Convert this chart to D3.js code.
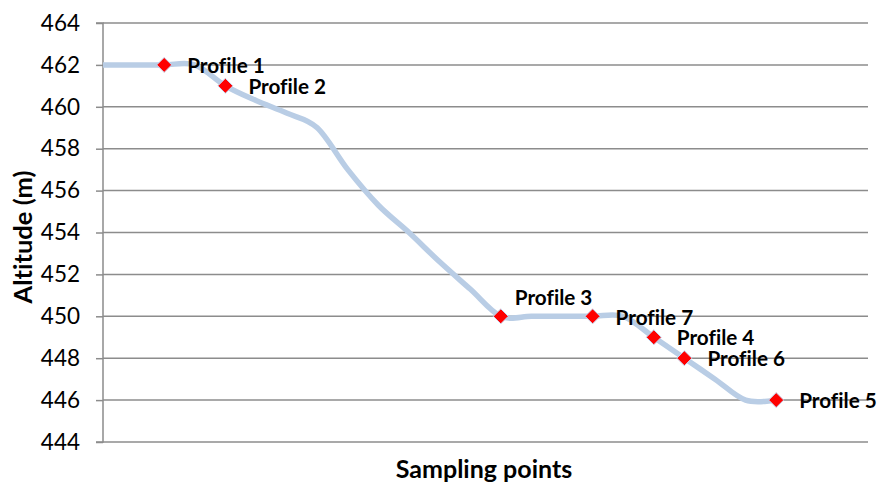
<!DOCTYPE html>
<html>
<head>
<meta charset="utf-8">
<script src="https://cdn.jsdelivr.net/npm/d3@7"></script>
<style>
  html, body { margin: 0; padding: 0; background: #fff; }
  svg { display: block; }
  text { font-family: Lato, "Open Sans", sans-serif; fill: #000; font-variant-ligatures: none; font-feature-settings: "liga" 0; }
</style>
</head>
<body>
<svg id="chart" width="883" height="484"></svg>
<script>
// Altitude profile along the sampling transect (index = sampling point)
const pointIndex = [0, 1, 2, 3, 4, 5, 6, 7, 8, 9, 10, 11, 12, 13, 14, 15, 16, 17, 18, 19, 20, 21, 22];
const altitude   = [462, 462, 462, 462, 461, 460.3, 459.7, 459.0, 457.0, 455.3, 454.0, 452.6, 451.3,
                    450, 450, 450, 450, 450, 449, 448, 447, 446, 446];

// Labelled sampling profiles
const profileNames = ["Profile 1", "Profile 2", "Profile 3", "Profile 7", "Profile 4", "Profile 6", "Profile 5"];
const profileIndex = [2, 4, 13, 16, 18, 19, 22];
const profileAlt   = [462, 461, 450, 450, 449, 448, 446];
const labelsAbove  = ["Profile 3"];

const yTicks = [444, 446, 448, 450, 452, 454, 456, 458, 460, 462, 464];
const yTitle = "Altitude (m)";
const xTitle = "Sampling points";

const svg = d3.select("#chart");
const plotLeft = 103, plotRight = 868, plotTop = 23, plotBottom = 442;

const x = d3.scaleLinear().domain([0, 25]).range([plotLeft, plotRight]);
const y = d3.scaleLinear().domain([444, 464]).range([plotBottom, plotTop]);

// horizontal gridlines
svg.append("g")
  .selectAll("line")
  .data(yTicks)
  .join("line")
  .attr("x1", plotLeft).attr("x2", plotRight)
  .attr("y1", d => y(d)).attr("y2", d => y(d))
  .attr("stroke", "#8c8c8c").attr("stroke-width", 1.5);

// y axis with outward ticks
const yAxis = d3.axisLeft(y).tickValues(yTicks).tickSize(7).tickPadding(16).tickFormat(d3.format("d"));
const ga = svg.append("g").attr("transform", `translate(${plotLeft},0)`).call(yAxis);
ga.select(".domain").attr("stroke", "#8c8c8c").attr("stroke-width", 1.5).attr("d", `M-7,${plotTop}H0V${plotBottom}H-7`);
ga.selectAll(".tick line").attr("stroke", "#8c8c8c").attr("stroke-width", 1.5);
ga.selectAll(".tick text").style("font-family", "Lato, sans-serif").style("font-size", "22.5px").attr("fill", "#000");

// axis titles
svg.append("text")
  .attr("transform", `translate(23,${237}) rotate(-90)`)
  .attr("text-anchor", "middle")
  .attr("dy", "0.35em")
  .style("font-size", "25.5px").style("font-weight", "bold")
  .text(yTitle);

svg.append("text")
  .attr("x", 484).attr("y", 478)
  .attr("text-anchor", "middle")
  .style("font-size", "25px").style("font-weight", "bold")
  .text(xTitle);

// smoothed altitude line
const line = d3.line()
  .x((d, i) => x(pointIndex[i]))
  .y(d => y(d))
  .curve(d3.curveCatmullRom.alpha(0));

svg.append("path")
  .datum(altitude)
  .attr("d", line)
  .attr("fill", "none")
  .attr("stroke", "#b9cde5")
  .attr("stroke-width", 5.5)
  .attr("stroke-linecap", "butt")
  .attr("stroke-linejoin", "round");

// profile markers
const profiles = profileNames.map((n, i) => ({ name: n, idx: profileIndex[i], alt: profileAlt[i] }));

svg.append("g")
  .selectAll("path")
  .data(profiles)
  .join("path")
  .attr("transform", d => `translate(${x(d.idx)},${y(d.alt)})`)
  .attr("d", "M0,-7.5L7.5,0L0,7.5L-7.5,0Z")
  .attr("fill", "#ff0000")
  .attr("stroke", "#c6d9f1")
  .attr("stroke-width", 1);

// profile labels
svg.append("g")
  .selectAll("text")
  .data(profiles)
  .join("text")
  .attr("x", d => x(d.idx) + (labelsAbove.includes(d.name) ? 14 : 23))
  .attr("y", d => y(d.alt) + (labelsAbove.includes(d.name) ? -19 : 1))
  .attr("dy", "0.35em")
  .style("font-size", "20.7px").style("font-weight", "bold")
  .text(d => d.name);
</script>
</body>
</html>
